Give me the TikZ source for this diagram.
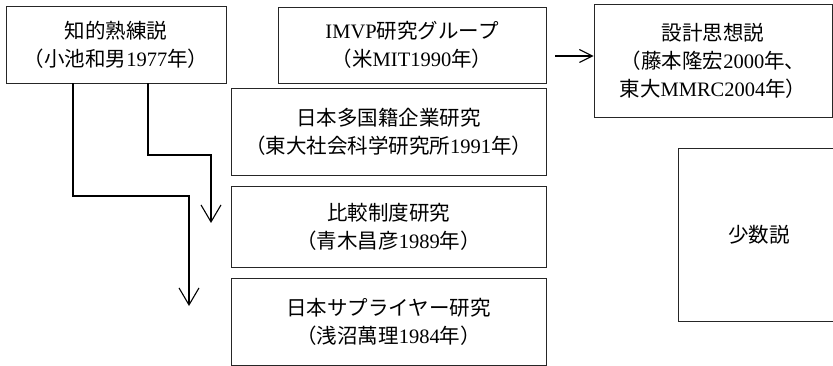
\documentclass[tikz,border=0pt]{standalone}
\usepackage{fontspec}
\setmainfont{Noto Sans CJK JP}
\newfontfamily\lat{Liberation Serif}
\usetikzlibrary{arrows.meta}
\begin{document}
\begin{tikzpicture}[x=1pt,y=-1pt,
  box/.style={draw=black!85,line width=0.8pt,align=center,inner sep=0pt,
    font=\fontsize{20.5}{28}\selectfont},
  conn/.style={line width=1.1pt,line join=miter,
    -{Straight Barb[length=17pt,width=20pt,line width=1.1pt]}},
  conns/.style={line width=1.1pt,
    -{Straight Barb[length=13pt,width=13pt,line width=1.1pt]}}]
\useasboundingbox (0,0) rectangle (833,366);
\node[box,minimum width=220pt,minimum height=77pt] (A) at (116,44.5)
  {知的熟練説\\（小池和男{\lat 1977}年）};
\node[box,minimum width=268pt,minimum height=76pt] (B) at (412,45)
  {{\lat IMVP}研究グループ\\（米{\lat MIT1990}年）};
\node[box,minimum width=238pt,minimum height=113pt] (C) at (713,60.5)
  {設計思想説\\（藤本隆宏{\lat 2000}年、\\東大{\lat MMRC2004}年）};
\node[box,minimum width=315pt,minimum height=87pt] (D) at (388.5,131.5)
  {日本多国籍企業研究\\（東大社会科学研究所{\lat 1991}年）};
\node[box,minimum width=315pt,minimum height=81pt] (E) at (388.5,226.5)
  {比較制度研究\\（青木昌彦{\lat 1989}年）};
\node[box,minimum width=315pt,minimum height=87pt] (F) at (388.5,321.5)
  {日本サプライヤー研究\\（浅沼萬理{\lat 1984}年）};
\node[box,minimum width=162pt,minimum height=173pt] (G) at (759,234.5)
  {少数説};
\coordinate (t1) at (189,306);
\coordinate (t2) at (211,223);
\coordinate (s3) at ([xshift=9pt,yshift=-11pt]B.east);
\draw[conn] ([xshift=-43pt]A.south) |- ([yshift=110pt]t1) -- (t1);
\draw[conn] ([xshift=32pt]A.south) |- ([yshift=68pt]t2) -- (t2);
\draw[conns] (s3) -- (C.west |- s3);
\end{tikzpicture}
\end{document}
